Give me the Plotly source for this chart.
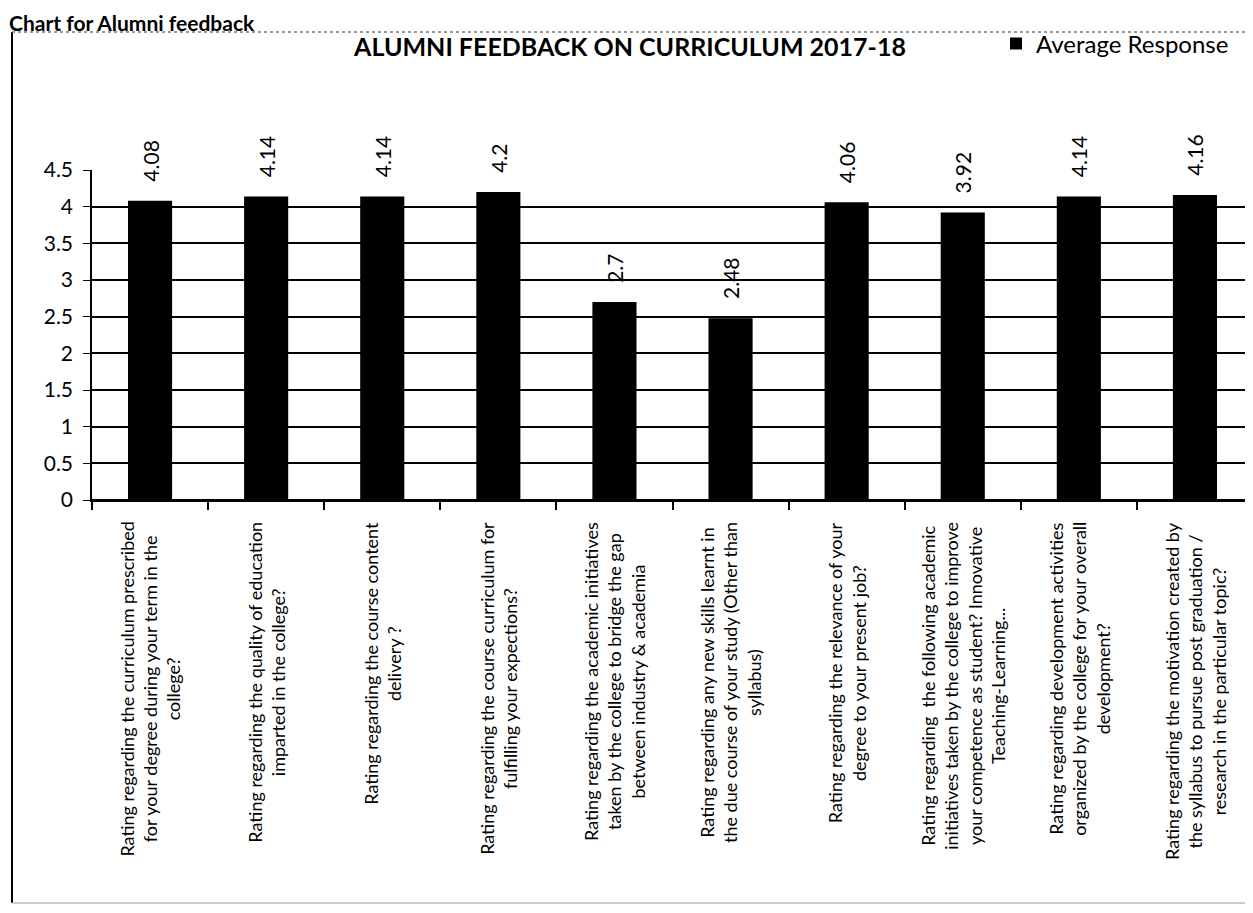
import plotly.graph_objects as go

categories = [
    "Rating regarding the curriculum prescribed<br>for your degree during your term in the<br>college?",
    "Rating regarding the quality of education<br>imparted in the college?",
    "Rating regarding the course content<br>delivery ?",
    "Rating regarding the course curriculum for<br>fulfilling your expections?",
    "Rating regarding the academic initiatives<br>taken by the college to bridge the gap<br>between industry &amp; academia",
    "Rating regarding any new skills learnt in<br>the due course of your study (Other than<br>syllabus)",
    "Rating regarding the relevance of your<br>degree to your present job?",
    "Rating regarding  the following academic<br>initiatives taken by the college to improve<br>your competence as student? Innovative<br>Teaching-Learning...",
    "Rating regarding development activities<br>organized by the college for your overall<br>development?",
    "Rating regarding the motivation created by<br>the syllabus to pursue post graduation /<br>research in the particular topic?",
]
keys = ["Q%d" % (i + 1) for i in range(len(categories))]
values = [4.08, 4.14, 4.14, 4.2, 2.7, 2.48, 4.06, 3.92, 4.14, 4.16]
value_labels = ["4.08", "4.14", "4.14", "4.2", "2.7", "2.48", "4.06", "3.92", "4.14", "4.16"]
y_ticks = [0, 0.5, 1, 1.5, 2, 2.5, 3, 3.5, 4, 4.5]
y_tick_labels = ["0", "0.5", "1", "1.5", "2", "2.5", "3", "3.5", "4", "4.5"]

FONT = "Lato, 'Open Sans', sans-serif"

OFF = 8  # page body margin
W, H = 1253 - OFF, 913 - OFF
L, R, T, B = 92 - OFF, 0, 170 - OFF, 913 - 500
pw, ph = W - L - R, H - T - B

def px_x(x):
    # screen pixel -> paper fraction
    return (x - OFF - L) / pw

def px_y(y):
    return (H - B - (y - OFF)) / ph

fig = go.Figure()
fig.add_trace(go.Bar(
    x=keys, y=values, name="Average Response",
    marker=dict(color="black", line=dict(width=0)),
    text=value_labels, texttemplate="\u00a0\u00a0\u00a0%{text}",
    textposition="outside", textangle=-90, constraintext="none",
    textfont=dict(size=21, color="black", family=FONT),
    cliponaxis=False, showlegend=True,
))

annotations = []
for k, c in zip(keys, categories):
    annotations.append(dict(
        x=k, xref="x", y=0, yref="paper", yshift=-20,
        text=c, textangle=-90, showarrow=False,
        xanchor="center", yanchor="top", align="center",
        font=dict(size=18, color="black", family=FONT),
    ))
annotations.append(dict(
    x=px_x(OFF), xref="paper", y=px_y(OFF + 1), yref="paper",
    text="<b>Chart for Alumni feedback</b>", showarrow=False,
    xanchor="left", yanchor="top", borderpad=0,
    font=dict(size=21, color="black", family=FONT),
))

shapes = [
    dict(type="line", xref="paper", yref="paper", x0=px_x(12), x1=px_x(12),
         y0=px_y(32), y1=px_y(903), line=dict(color="black", width=2)),
    dict(type="line", xref="paper", yref="paper", x0=px_x(12), x1=px_x(1253),
         y0=px_y(32), y1=px_y(32), line=dict(color="#777777", width=1.5, dash="dot")),
    dict(type="line", xref="paper", yref="paper", x0=px_x(12), x1=px_x(1253),
         y0=px_y(903), y1=px_y(903), line=dict(color="#bbbbbb", width=1.5)),
]

fig.update_layout(
    width=W, height=H,
    margin=dict(l=L, r=R, t=T, b=B, autoexpand=False),
    paper_bgcolor="white", plot_bgcolor="white",
    bargap=0.62,
    title=dict(text="<b>ALUMNI FEEDBACK ON CURRICULUM 2017-18</b>",
               x=px_x(630), xref="paper", xanchor="center",
               y=1 - (47 - OFF) / H, yref="container", yanchor="middle",
               font=dict(size=25, color="black", family=FONT)),
    legend=dict(x=px_x(996), y=px_y(44), xanchor="left", yanchor="middle",
                xref="paper", yref="paper",
                font=dict(size=24, color="black", family=FONT),
                bgcolor="rgba(0,0,0,0)", itemwidth=30),
    xaxis=dict(showticklabels=False, ticks="outside", tickson="boundaries",
               ticklen=8, tickcolor="black", tickwidth=1.5,
               showline=True, linecolor="black", linewidth=2,
               showgrid=False, automargin=False),
    yaxis=dict(range=[0, 4.5], tickvals=y_ticks, ticktext=y_tick_labels,
               ticks="outside", ticklen=7, tickcolor="black",
               ticklabelstandoff=6, automargin=False,
               showline=True, linecolor="black", linewidth=1.5,
               showgrid=True, gridcolor="black", gridwidth=2,
               zeroline=True, zerolinecolor="black", zerolinewidth=2,
               tickfont=dict(size=21, color="black", family=FONT)),
    annotations=annotations, shapes=shapes,
    font=dict(family=FONT, color="black"),
)

fig.write_html("out.html")
